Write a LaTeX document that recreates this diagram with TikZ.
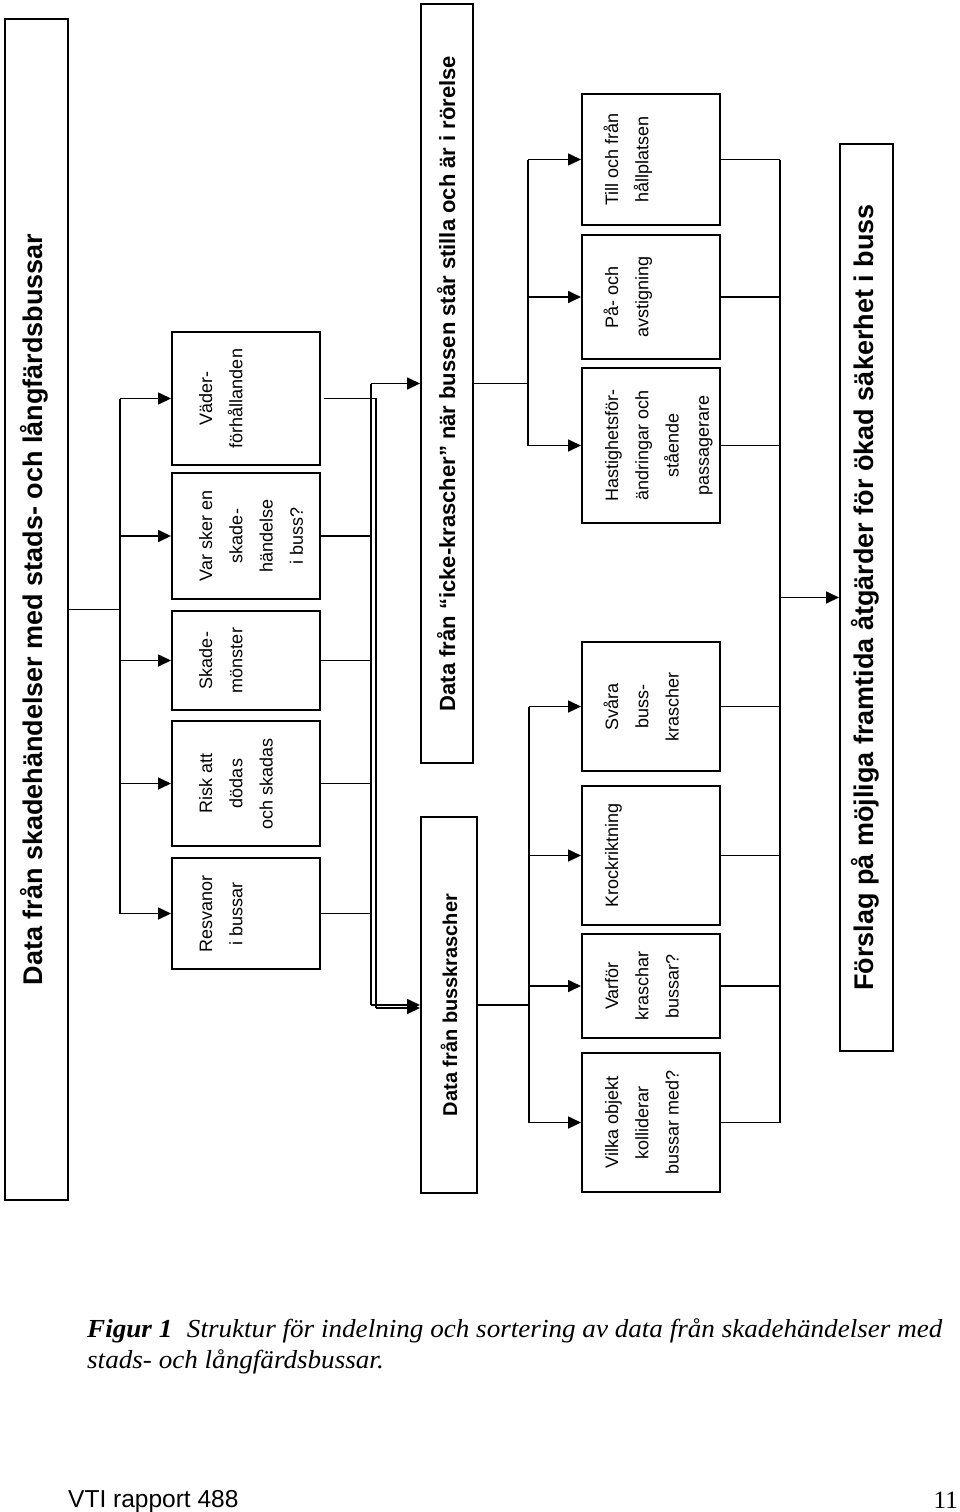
\documentclass[tikz,border=0pt]{standalone}
\usepackage{fontspec}
\setmainfont{Liberation Sans}
\newfontfamily\serifcap{Liberation Serif}
\usetikzlibrary{arrows.meta}
\newcommand\bxt[4]{\begin{minipage}[c][#2][t]{#1}\centering\vspace*{#3}\rule{0pt}{17pt}#4\end{minipage}}
\tikzset{
  sbox/.style={draw, line width=2pt, inner sep=0pt, rotate=90, font=\fontsize{18}{30.3}\selectfont},
  mbox/.style={draw, line width=2pt, inner sep=0pt, rotate=90},
  conn/.style={line width=1.7pt},
  arr/.style={conn, -{Triangle[length=13pt,width=12pt]}},
}
\begin{document}
\begin{tikzpicture}[x=1pt,y=-1pt]
\useasboundingbox (0,0) rectangle (960,1512);
% main boxes
\node[mbox, minimum width=1181pt, text height=37pt, text depth=26pt, font=\bfseries\fontsize{27}{30}\selectfont] (t) at (36.5,609.5) {Data från skadehändelser med stads- och långfärdsbussar};
\node[mbox, minimum width=759pt, text height=34pt, text depth=18pt, font=\bfseries\fontsize{22}{26}\selectfont] (ik) at (447,383.5) {Data från “icke-krascher” när bussen står stilla och är i rörelse};
\node[mbox, minimum width=376pt, text height=36pt, text depth=20pt, font=\bfseries\fontsize{20}{24}\selectfont] (bk) at (449,1005) {Data från busskrascher};
\node[mbox, minimum width=907pt, text height=33pt, text depth=20pt, font=\bfseries\fontsize{27}{30}\selectfont] (fo) at (866.5,597.5) {Förslag på möjliga framtida åtgärder för ökad säkerhet i buss};
% left column
\node[sbox] (v)  at (246,398.5) {\bxt{133pt}{148pt}{23pt}{Väder-\\förhållanden}};
\node[sbox] (vs) at (246,536)   {\bxt{126pt}{148pt}{23pt}{Var sker en\\skade-\\händelse\\i buss?}};
\node[sbox] (sm) at (246,660.5) {\bxt{99pt}{148pt}{23pt}{Skade-\\mönster}};
\node[sbox] (ra) at (246,783.5) {\bxt{125pt}{148pt}{23pt}{Risk att\\dödas\\och skadas}};
\node[sbox] (rb) at (246,913.5) {\bxt{111pt}{148pt}{23pt}{Resvanor\\i bussar}};
% right column
\node[sbox] (tf) at (651,159.5) {\bxt{131pt}{138pt}{19pt}{Till och från\\hållplatsen}};
\node[sbox] (pa) at (651,297)   {\bxt{124pt}{138pt}{19pt}{På- och\\avstigning}};
\node[sbox] (ha) at (651,445.5) {\bxt{155pt}{138pt}{19pt}{Hastighetsför-\\ändringar och\\stående\\passagerare}};
\node[sbox] (sv) at (651,706.5) {\bxt{129pt}{138pt}{19pt}{Svåra\\buss-\\krascher}};
\node[sbox] (kr) at (651,855.5) {\bxt{139pt}{138pt}{19pt}{Krockriktning}};
\node[sbox] (vf) at (651,986)   {\bxt{104pt}{138pt}{19pt}{Varför\\kraschar\\bussar?}};
\node[sbox] (vo) at (651,1122.5){\bxt{139pt}{138pt}{19pt}{Vilka objekt\\kolliderar\\bussar med?}};
% bus coordinates
\coordinate (b1) at (120,609.5);
\coordinate (b2) at (371,0);
\coordinate (b3) at (376,1008);
\coordinate (b3s) at (324,398.5);
\coordinate (b4) at (528,0);
\coordinate (b5) at (780,0);
\coordinate (b6) at (529,0);
% title -> left column
\draw[conn] (t.south) -- (b1);
\draw[conn] (b1 |- v.north) -- (b1 |- rb.north);
\foreach \n in {v,vs,sm,ra,rb} \draw[arr] (b1 |- \n.north) -- (\n.north);
% left column -> data boxes
\foreach \n in {vs,sm,ra,rb} \draw[conn] (\n.south) -- (\n.south -| b2);
\draw[conn] (b2 |- ik.north) -- (b2 |- bk.north);
\draw[arr] (b2 |- ik.north) -- (ik.north);
\draw[arr] (b2 |- bk.north) -- (bk.north);
\draw[conn] (b3s) -- (b3s -| b3) -- (b3);
\draw[arr] (b3) -- (b3 -| bk.north);
% icke-krascher -> right column
\draw[conn] (ik.south) -- (ik.south -| b4);
\draw[conn] (b4 |- tf.north) -- (b4 |- ha.north);
\foreach \n in {tf,pa,ha} \draw[arr] (b4 |- \n.north) -- (\n.north);
% busskrascher -> right column
\draw[conn] (bk.south) -- (bk.south -| b6);
\draw[conn] (b6 |- sv.north) -- (b6 |- vo.north);
\foreach \n in {sv,kr,vf,vo} \draw[arr] (b6 |- \n.north) -- (\n.north);
% right column -> Förslag
\foreach \n in {tf,pa,ha,sv,kr,vf,vo} \draw[conn] (\n.south) -- (\n.south -| b5);
\draw[conn] (b5 |- tf.south) -- (b5 |- vo.south);
\draw[arr] (b5 |- fo.north) -- (fo.north);
% caption and footer
\node[anchor=base west, inner sep=0pt, font=\serifcap\itshape\fontsize{26}{31}\selectfont] (cap1) at (87,1337) {\scalebox{1.043}[1]{\textbf{Figur 1}\hspace{14pt}Struktur för indelning och sortering av data från skadehändelser med}};
\node[anchor=base west, inner sep=0pt, font=\serifcap\itshape\fontsize{26}{31}\selectfont] (cap2) at (87,1368) {\scalebox{1.043}[1]{stads- och långfärdsbussar.}};
\node[anchor=base west, inner sep=0pt, font=\fontsize{24.5}{28}\selectfont] (foot1) at (68,1507) {VTI rapport 488};
\node[anchor=base east, inner sep=0pt, font=\serifcap\fontsize{25}{28}\selectfont] (foot2) at (958,1508) {11};
\end{tikzpicture}
\end{document}
